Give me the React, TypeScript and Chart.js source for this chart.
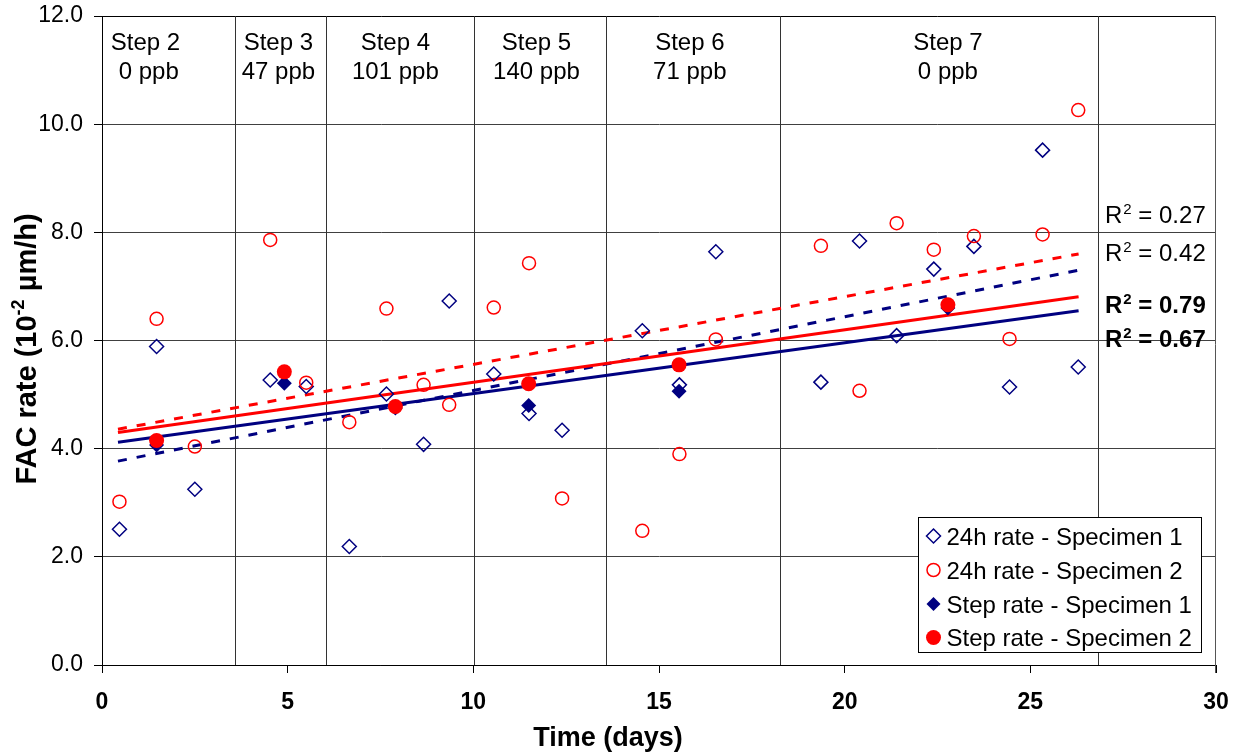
import React, { useEffect, useRef } from 'react';
import { Chart, registerables } from 'chart.js';

Chart.register(...registerables);

// ---- Data ----
const days = [0.47, 1.47, 2.5, 4.53, 5.5, 6.66, 7.66, 8.66, 9.35, 10.55, 11.5, 12.39, 14.55, 15.55, 16.53, 19.36, 20.4, 21.4, 22.4, 23.48, 24.44, 25.33, 26.29];
const daily1 = [2.51, 5.89, 3.25, 5.27, 5.15, 2.19, 5.01, 4.08, 6.73, 5.38, 4.65, 4.34, 6.18, 5.18, 7.64, 5.23, 7.84, 6.09, 7.32, 7.74, 5.14, 9.52, 5.51];
const daily2 = [3.02, 6.4, 4.04, 7.86, 5.22, 4.49, 6.59, 5.18, 4.81, 6.61, 7.43, 3.08, 2.48, 3.9, 6.02, 7.75, 5.07, 8.17, 7.68, 7.93, 6.03, 7.96, 10.26];

const stepDays = [1.47, 4.91, 7.9, 11.49, 15.54, 22.78];
const step1 = [4.07, 5.21, 4.75, 4.8, 5.06, 6.6];
const step2 = [4.15, 5.42, 4.78, 5.2, 5.55, 6.66];

const trendX = [0.43, 26.3];
const trendDaily1 = [3.77, 7.3];
const trendDaily2 = [4.36, 7.6];
const trendStep1 = [4.12, 6.55];
const trendStep2 = [4.3, 6.81];

const rSquared = ['0.27', '0.42', '0.79', '0.67'];
const rSquaredBold = [false, false, true, true];

const stepBoundaries = [3.57, 6.04, 10.01, 13.56, 18.26, 26.83];
const stepNames = ['Step 2', 'Step 3', 'Step 4', 'Step 5', 'Step 6', 'Step 7'];
const stepConc = [' 0 ppb', '47 ppb', '101 ppb', '140 ppb', '71 ppb', '0 ppb'];
const stepLabelDay = [1.17, 4.75, 7.9, 11.7, 15.83, 22.78];

const legendLabels = ['24h rate - Specimen 1', '24h rate - Specimen 2', 'Step rate - Specimen 1', 'Step rate - Specimen 2'];

const NAVY = '#000080';
const RED = '#FF0000';
const FONT = '"Liberation Sans", Arial, sans-serif';

const pts = (xs: number[], ys: number[]) => xs.map((x, i) => ({ x, y: ys[i] }));

function drawMarker(ctx: CanvasRenderingContext2D, kind: string, x: number, y: number) {
  ctx.save();
  ctx.lineWidth = 1.5;
  if (kind === 'diamondOpen' || kind === 'diamondFilled') {
    const r = 7;
    ctx.beginPath();
    ctx.moveTo(x, y - r);
    ctx.lineTo(x + r, y);
    ctx.lineTo(x, y + r);
    ctx.lineTo(x - r, y);
    ctx.closePath();
    if (kind === 'diamondFilled') { ctx.fillStyle = NAVY; ctx.fill(); }
    else { ctx.strokeStyle = NAVY; ctx.stroke(); }
  } else {
    const r = kind === 'circleFilled' ? 7.5 : 6.5;
    ctx.beginPath();
    ctx.arc(x, y, r, 0, Math.PI * 2);
    if (kind === 'circleFilled') { ctx.fillStyle = RED; ctx.fill(); }
    else { ctx.strokeStyle = RED; ctx.stroke(); }
  }
  ctx.restore();
}

const overlayPlugin = {
  id: 'overlay',
  beforeDatasetsDraw(chart: any) {
    const { ctx, chartArea: a, scales } = chart;
    const x = scales.x;
    ctx.save();
    ctx.strokeStyle = '#333';
    ctx.lineWidth = 1;
    for (const b of stepBoundaries) {
      const px = Math.round(x.getPixelForValue(b)) + 0.5;
      ctx.beginPath();
      ctx.moveTo(px, a.top);
      ctx.lineTo(px, a.bottom);
      ctx.stroke();
    }
    // right border
    ctx.strokeStyle = '#555';
    const rx = Math.round(a.right) - 0.5;
    ctx.beginPath();
    ctx.moveTo(rx, a.top);
    ctx.lineTo(rx, a.bottom + 8);
    ctx.stroke();

    ctx.fillStyle = '#000';
    ctx.font = `24px ${FONT}`;
    ctx.textAlign = 'center';
    ctx.textBaseline = 'alphabetic';
    stepNames.forEach((n, i) => {
      const px = x.getPixelForValue(stepLabelDay[i]);
      ctx.fillText(n, px, a.top + 34);
      ctx.fillText(stepConc[i], px, a.top + 63);
    });
    ctx.restore();
  },
  afterDraw(chart: any) {
    const { ctx } = chart;
    ctx.save();
    // R² labels
    const baselines = [223, 261, 313, 346.5];
    rSquared.forEach((v, i) => {
      const bold = rSquaredBold[i] ? 'bold ' : '';
      let cx = 1105;
      const by = baselines[i];
      ctx.fillStyle = '#000';
      ctx.textAlign = 'left';
      ctx.textBaseline = 'alphabetic';
      ctx.font = `${bold}24px ${FONT}`;
      ctx.fillText('R', cx, by);
      cx += ctx.measureText('R').width;
      ctx.font = `${bold}15px ${FONT}`;
      ctx.fillText('2', cx + 1, by - 9);
      cx += ctx.measureText('2').width + 1;
      ctx.font = `${bold}24px ${FONT}`;
      ctx.fillText(' = ' + v, cx, by);
    });

    // Legend
    const lx = 918.5, ly = 517.5, lw = 283, lh = 135;
    ctx.fillStyle = '#fff';
    ctx.fillRect(lx, ly, lw, lh);
    ctx.strokeStyle = '#000';
    ctx.lineWidth = 1;
    ctx.strokeRect(lx, ly, lw, lh);
    const kinds = ['diamondOpen', 'circleOpen', 'diamondFilled', 'circleFilled'];
    const centers = [536, 570, 604, 637.5];
    ctx.font = `24px ${FONT}`;
    ctx.textAlign = 'left';
    ctx.textBaseline = 'alphabetic';
    legendLabels.forEach((t, i) => {
      drawMarker(ctx, kinds[i], 933.5, centers[i]);
      ctx.fillStyle = '#000';
      ctx.fillText(t, 946.5, centers[i] + 8.5);
    });

    // X title
    ctx.fillStyle = '#000';
    ctx.font = `bold 27px ${FONT}`;
    ctx.textAlign = 'center';
    ctx.fillText('Time (days)', 608, 746);

    // Y title (rotated with superscript)
    ctx.translate(36, 349);
    ctx.rotate(-Math.PI / 2);
    const partA = 'FAC rate (10';
    const sup = '-2';
    const partB = ' \u00B5m/h)';
    ctx.font = `bold 29px ${FONT}`;
    const wA = ctx.measureText(partA).width;
    const wB = ctx.measureText(partB).width;
    ctx.font = `bold 18px ${FONT}`;
    const wS = ctx.measureText(sup).width;
    const total = wA + wS + wB;
    let sx = -total / 2;
    ctx.textAlign = 'left';
    ctx.font = `bold 29px ${FONT}`;
    ctx.fillText(partA, sx, 0);
    sx += wA;
    ctx.font = `bold 18px ${FONT}`;
    ctx.fillText(sup, sx, -12);
    sx += wS;
    ctx.font = `bold 29px ${FONT}`;
    ctx.fillText(partB, sx, 0);
    ctx.restore();
  },
};

export default function App() {
  const ref = useRef<HTMLCanvasElement | null>(null);

  useEffect(() => {
    if (!ref.current) return;
    const chart = new Chart(ref.current, {
      type: 'scatter',
      data: {
        datasets: [
          {
            label: legendLabels[3],
            data: pts(stepDays, step2),
            pointStyle: 'circle',
            pointRadius: 7.5,
            pointBackgroundColor: RED,
            pointBorderColor: RED,
            pointBorderWidth: 0,
          },
          {
            label: legendLabels[2],
            data: pts(stepDays, step1),
            pointStyle: 'rectRot',
            pointRadius: 7.5,
            pointBackgroundColor: NAVY,
            pointBorderColor: NAVY,
            pointBorderWidth: 0,
          },
          {
            label: legendLabels[1],
            data: pts(days, daily2),
            pointStyle: 'circle',
            pointRadius: 6.5,
            pointBackgroundColor: 'rgba(0,0,0,0)',
            pointBorderColor: RED,
            pointBorderWidth: 1.5,
          },
          {
            label: legendLabels[0],
            data: pts(days, daily1),
            pointStyle: 'rectRot',
            pointRadius: 7,
            pointBackgroundColor: 'rgba(0,0,0,0)',
            pointBorderColor: NAVY,
            pointBorderWidth: 1.5,
          },
          {
            label: 'trend step 2',
            data: pts(trendX, trendStep2),
            showLine: true,
            pointRadius: 0,
            borderColor: RED,
            borderWidth: 3,
          },
          {
            label: 'trend step 1',
            data: pts(trendX, trendStep1),
            showLine: true,
            pointRadius: 0,
            borderColor: NAVY,
            borderWidth: 3,
          },
          {
            label: 'trend 24h 2',
            data: pts(trendX, trendDaily2),
            showLine: true,
            pointRadius: 0,
            borderColor: RED,
            borderWidth: 3,
            borderDash: [9, 10],
          },
          {
            label: 'trend 24h 1',
            data: pts(trendX, trendDaily1),
            showLine: true,
            pointRadius: 0,
            borderColor: NAVY,
            borderWidth: 3,
            borderDash: [9, 10],
          },
        ],
      },
      options: {
        responsive: false,
        animation: false,
        layout: { padding: { top: 16, right: 23, left: 0, bottom: 0 } },
        plugins: {
          legend: { display: false },
          tooltip: { enabled: false },
        },
        scales: {
          x: {
            type: 'linear',
            min: 0,
            max: 30,
            afterFit: (s: any) => { s.height = 90; s.paddingLeft = 0; s.paddingRight = 0; },
            ticks: {
              stepSize: 5,
              color: '#000',
              font: { family: FONT, size: 23, weight: 'bold' },
              padding: 16,
              maxRotation: 0,
            },
            grid: {
              drawOnChartArea: false,
              drawTicks: true,
              tickLength: 8,
              color: '#000',
              tickColor: '#000',
            },
            border: { color: '#000', width: 1 },
          },
          y: {
            type: 'linear',
            min: 0,
            max: 12,
            afterFit: (s: any) => { s.width = 102; s.paddingTop = 0; s.paddingBottom = 0; },
            ticks: {
              stepSize: 2,
              color: '#000',
              font: { family: FONT, size: 23 },
              padding: 11,
              callback: (v: any) => Number(v).toFixed(1),
            },
            grid: {
              drawTicks: true,
              tickLength: 8,
              color: (c: any) => (c.tick && c.tick.value === 12 ? '#000' : '#404040'),
              tickColor: '#000',
            },
            border: { color: '#000', width: 1 },
          },
        },
      },
      plugins: [overlayPlugin],
    });
    return () => chart.destroy();
  }, []);

  return (
    <div style={{ position: 'fixed', left: 0, top: 0, width: 1239, height: 755, background: '#fff' }}>
      <canvas ref={ref} width={1239} height={755} style={{ display: 'block' }} />
    </div>
  );
}
